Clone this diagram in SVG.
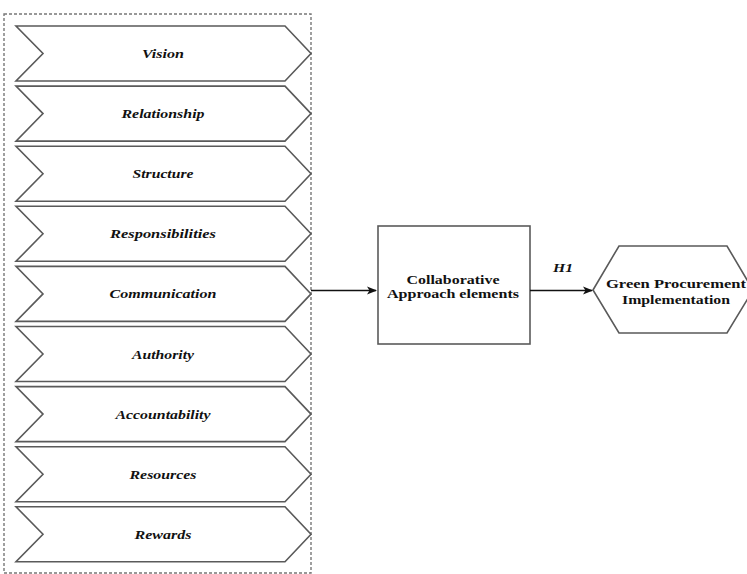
<svg xmlns="http://www.w3.org/2000/svg" width="747" height="574" viewBox="0 0 747 574">
<style>
.chev{fill:#fff;stroke:#5a5a5a;stroke-width:1.6;stroke-linejoin:miter}
.lbl{font-family:"Liberation Serif","Times New Roman",serif;font-weight:bold;font-style:italic;font-size:13px;fill:#111;text-anchor:middle}
.bt{font-family:"Liberation Serif","Times New Roman",serif;font-weight:bold;font-size:13.5px;fill:#111;text-anchor:middle}
.edge{stroke:#111;stroke-width:1.3;fill:none}
</style>
<defs>
<marker id="ah" viewBox="0 0 10 10" refX="9" refY="5" markerWidth="10" markerHeight="10" markerUnits="userSpaceOnUse" orient="auto">
<path d="M0,1 L10,5 L0,9 L2.5,5 Z" fill="#111"/>
</marker>
<polygon id="chv" points="16,0 285,0 311,27.5 285,55 16,55 43,27.5"/>
</defs>
<rect width="747" height="574" fill="#fff"/>
<rect id="container" x="4" y="14" width="307" height="559" fill="none" stroke="#777" stroke-width="1.4" stroke-dasharray="3 2"/>
<g id="n-vision"><use href="#chv" class="chev" y="26"/><text class="lbl" x="163" y="58" textLength="42" lengthAdjust="spacingAndGlyphs">Vision</text></g>
<g id="n-relationship"><use href="#chv" class="chev" y="86.1"/><text class="lbl" x="163" y="118" textLength="83" lengthAdjust="spacingAndGlyphs">Relationship</text></g>
<g id="n-structure"><use href="#chv" class="chev" y="146.2"/><text class="lbl" x="163" y="178" textLength="61" lengthAdjust="spacingAndGlyphs">Structure</text></g>
<g id="n-responsibilities"><use href="#chv" class="chev" y="206.3"/><text class="lbl" x="163" y="238" textLength="106" lengthAdjust="spacingAndGlyphs">Responsibilities</text></g>
<g id="n-communication"><use href="#chv" class="chev" y="266.4"/><text class="lbl" x="163" y="298" textLength="107" lengthAdjust="spacingAndGlyphs">Communication</text></g>
<g id="n-authority"><use href="#chv" class="chev" y="326.5"/><text class="lbl" x="163" y="358.5" textLength="62" lengthAdjust="spacingAndGlyphs">Authority</text></g>
<g id="n-accountability"><use href="#chv" class="chev" y="386.6"/><text class="lbl" x="163" y="418.5" textLength="95" lengthAdjust="spacingAndGlyphs">Accountability</text></g>
<g id="n-resources"><use href="#chv" class="chev" y="446.7"/><text class="lbl" x="163" y="478.5" textLength="67" lengthAdjust="spacingAndGlyphs">Resources</text></g>
<g id="n-rewards"><use href="#chv" class="chev" y="506.8"/><text class="lbl" x="163" y="538.5" textLength="57" lengthAdjust="spacingAndGlyphs">Rewards</text></g>
<g id="n-collab">
<rect x="378" y="226" width="152" height="118" fill="#fff" stroke="#5a5a5a" stroke-width="1.6"/>
<text class="bt" x="453" y="283.5" textLength="93" lengthAdjust="spacingAndGlyphs">Collaborative</text>
<text class="bt" x="453" y="298" textLength="132" lengthAdjust="spacingAndGlyphs">Approach elements</text>
</g>
<g id="n-green">
<polygon points="593,290 619,246 727,246 753,290 727,333 619,333" fill="#fff" stroke="#5a5a5a" stroke-width="1.6"/>
<text class="bt" x="676" y="288" textLength="140" lengthAdjust="spacingAndGlyphs">Green Procurement</text>
<text class="bt" x="676" y="303.5" textLength="108" lengthAdjust="spacingAndGlyphs">Implementation</text>
</g>
<g id="connectors">
<line class="edge" x1="311" y1="290.5" x2="376" y2="290.5" marker-end="url(#ah)"/>
<line class="edge" x1="530" y1="290.5" x2="592" y2="290.5" marker-end="url(#ah)"/>
<text class="lbl" x="563" y="271.5" textLength="20" lengthAdjust="spacingAndGlyphs">H1</text>
</g>
</svg>
